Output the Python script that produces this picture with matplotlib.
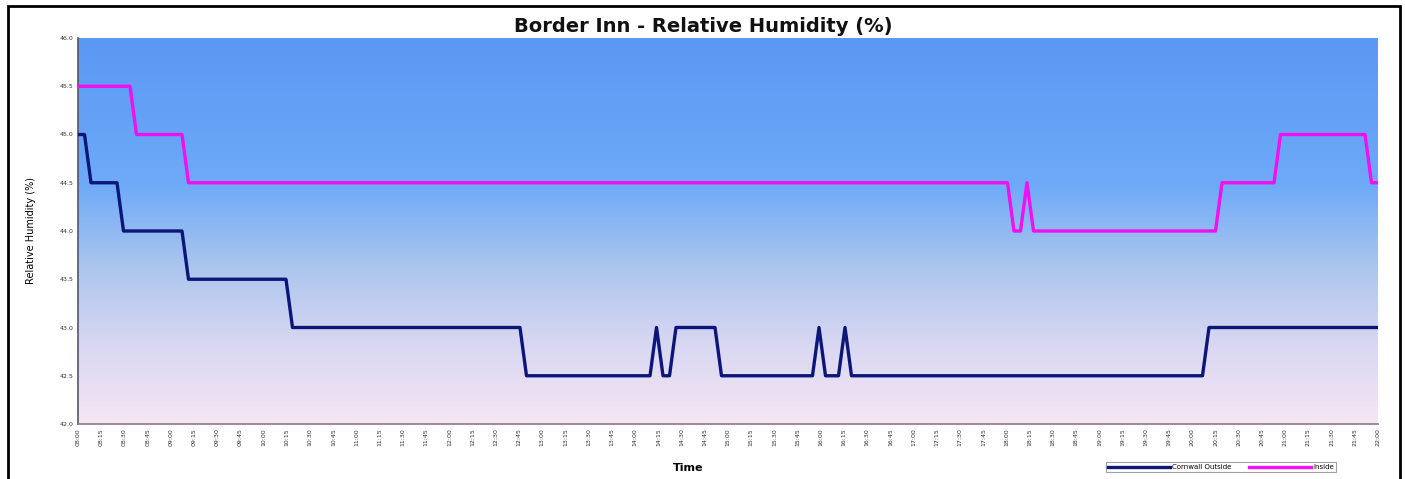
import numpy as np
import matplotlib
matplotlib.use('Agg')
import matplotlib.pyplot as plt
from matplotlib.colors import LinearSegmentedColormap
from matplotlib.patches import Rectangle

# values (run-length: level, number of readings)
outside_levels = [45.0, 44.5, 44.0, 43.5, 43.0, 42.5, 43.0, 42.5, 43.0, 42.5, 43.0, 42.5, 43.0, 42.5, 43.0]
outside_counts = [2, 5, 10, 16, 36, 20, 1, 2, 7, 15, 1, 3, 1, 55, 27]
inside_levels = [45.5, 45.0, 44.5, 44.0, 44.5, 44.0, 44.5, 45.0, 44.5]
inside_counts = [9, 8, 127, 2, 1, 29, 9, 14, 2]

time_labels = ['08:00', '08:15', '08:30', '08:45', '09:00', '09:15', '09:30', '09:45',
               '10:00', '10:15', '10:30', '10:45', '11:00', '11:15', '11:30', '11:45',
               '12:00', '12:15', '12:30', '12:45', '13:00', '13:15', '13:30', '13:45',
               '14:00', '14:15', '14:30', '14:45', '15:00', '15:15', '15:30', '15:45',
               '16:00', '16:15', '16:30', '16:45', '17:00', '17:15', '17:30', '17:45',
               '18:00', '18:15', '18:30', '18:45', '19:00', '19:15', '19:30', '19:45',
               '20:00', '20:15', '20:30', '20:45', '21:00', '21:15', '21:30', '21:45',
               '22:00']
y_ticks = [42.0, 42.5, 43.0, 43.5, 44.0, 44.5, 45.0, 45.5, 46.0]

outside = np.repeat(outside_levels, outside_counts)
inside = np.repeat(inside_levels, inside_counts)
x = np.arange(len(outside))

fig = plt.figure(figsize=(14.05, 4.79), dpi=100)
ax = fig.add_axes([78/1405, 1-424/479, 1300/1405, 386/479])

# gradient background, blue at the top fading to pale pink at the bottom
cmap = LinearSegmentedColormap.from_list('bg', [
    (0.0, '#5a98f4'), (0.38, '#6eaaf8'), (0.58, '#a8c4ee'),
    (0.78, '#d6d6f2'), (1.0, '#f6e6f4')])
grad = np.linspace(0, 1, 256).reshape(-1, 1)
ax.imshow(grad, cmap=cmap, aspect='auto', extent=[x[0], x[-1], 42.0, 46.0],
          origin='upper', zorder=0)

ax.plot(x, outside, color='#0c1678', lw=2.4, label='Cornwall Outside', zorder=3)
ax.plot(x, inside, color='#f010f0', lw=2.4, label='Inside', zorder=3)

ax.set_xlim(x[0], x[-1])
ax.set_ylim(42.0, 46.0)
ax.set_yticks(y_ticks)
ax.set_yticklabels(['%.1f' % v for v in y_ticks], fontsize=4.5, color='#333333')
ax.set_xticks(np.linspace(x[0], x[-1], len(time_labels)))
ax.set_xticklabels(time_labels, rotation=90, fontsize=4.5, color='#333333')
ax.tick_params(length=0, pad=3)
for s in ['top', 'right']:
    ax.spines[s].set_visible(False)
ax.spines['left'].set_color('#555566')
ax.spines['bottom'].set_color('#8a7a8a')
ax.spines['left'].set_linewidth(1.2)
ax.spines['bottom'].set_linewidth(1.2)

ax.set_ylabel('Relative Humidity (%)', fontsize=7, labelpad=17)
fig.text(688/1405, 1-468/479, 'Time', fontsize=8, fontweight='bold', ha='center', va='center')
fig.text(703/1405, 1-27/479, 'Border Inn - Relative Humidity (%)', fontsize=14,
         fontweight='heavy', ha='center', va='center', color='#111111')

leg = fig.legend(loc='center', bbox_to_anchor=(1221/1405, 1-467/479), ncol=2,
                 fontsize=5, frameon=True, fancybox=False, handlelength=9,
                 columnspacing=2.5, borderpad=0.3, handletextpad=0.3)
leg.get_frame().set_edgecolor('#888888')
leg.get_frame().set_linewidth(0.8)

# outer frame
fig.patches.append(Rectangle((8/1405, -0.01), 1392/1405, 1-6/479 + 0.01,
                             transform=fig.transFigure, fill=False,
                             edgecolor='black', linewidth=2.0))

fig.savefig('out.png', dpi=100)
